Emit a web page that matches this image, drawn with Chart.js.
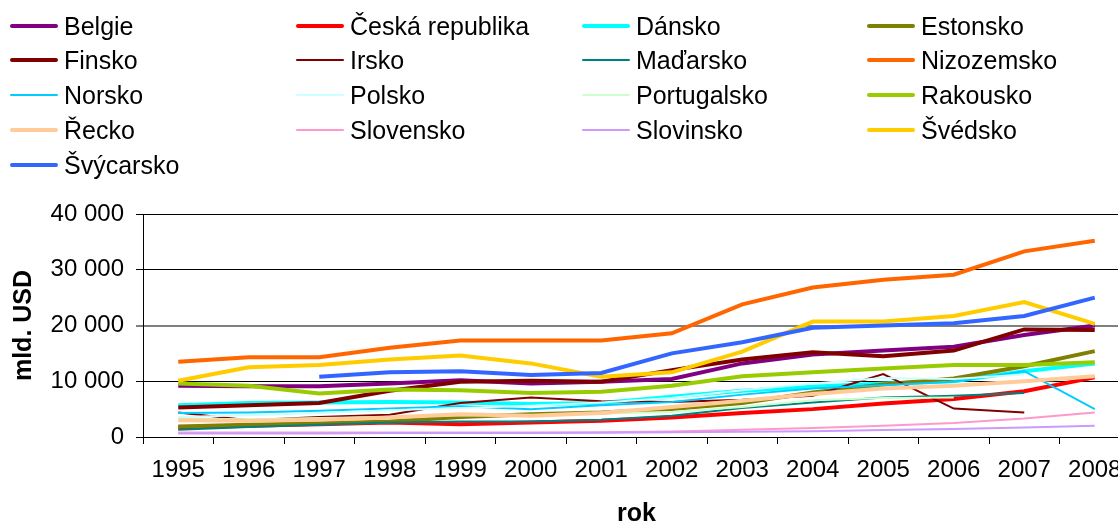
<!DOCTYPE html>
<html>
<head>
<meta charset="utf-8">
<script src="https://cdn.jsdelivr.net/npm/chart.js@4.4.0/dist/chart.umd.min.js"></script>
<style>
  html, body { margin: 0; padding: 0; background: #fff; overflow: hidden; width: 1118px; height: 524px; }
  #wrap { position: relative; width: 1150px; height: 524px; }
  #legend { position: absolute; left: 0; top: 0; width: 1118px; height: 190px;
            font-family: "Liberation Sans", Arial, sans-serif; font-size: 25px; color: #000; }
  .item { position: absolute; height: 28px; line-height: 28px; white-space: nowrap; }
  .swatch { position: absolute; left: -54px; width: 48px; border-radius: 2px; }
</style>
</head>
<body>
<div id="wrap">
  <canvas id="chart" width="1150" height="524"></canvas>
  <div id="legend"></div>
</div>
<script>
const years = ['1995', '1996', '1997', '1998', '1999', '2000', '2001', '2002', '2003', '2004', '2005', '2006', '2007', '2008'];
const yTicks = [0, 10000, 20000, 30000, 40000];

const belgie      = [9200, 9100, 9100, 9600, 10200, 9600, 9900, 10400, 13200, 14800, 15500, 16200, 18300, 20000];
const ceska       = [1700, 2000, 2300, 2600, 2300, 2600, 2900, 3500, 4300, 5000, 6000, 6800, 8200, 10700];
const dansko      = [5700, 6100, 6200, 6300, 6200, 5900, 6100, 7200, 8300, 9000, 9600, 10000, 11800, 13200];
const estonsko    = [1900, 2200, 2450, 2800, 3600, 4100, 4400, 5000, 6100, 8000, 9400, 10500, 12700, 15400];
const finsko      = [5300, 5700, 6100, 8300, 9900, 10100, 9900, 12000, 13900, 15200, 14500, 15500, 19300, 19200];
const irsko       = [4400, 3000, 3600, 4000, 6100, 7100, 6400, 6300, 6700, 7400, 11300, 5100, 4400, null];
const madarsko    = [1300, 1800, 2200, 2600, 2800, 2800, 3100, 3800, 5200, 6200, 7100, 7400, 7900, null];
const nizozemsko  = [13500, 14300, 14300, 16000, 17300, 17300, 17300, 18600, 23800, 26800, 28200, 29100, 33300, 35200];
const norsko      = [4300, 4400, 4700, 5100, 5500, 5000, 5700, 6300, 7600, 8700, 9300, 9900, 11800, 5000];
const polsko      = [3600, 3900, 4300, 4800, 5200, 5600, 6200, 7000, 8400, 9600, 10600, 10400, 11200, null];
const portugalsko = [3300, 3200, 3400, 3600, 3900, 3900, 4200, 4500, 5400, 6600, 7000, 7100, null, null];
const rakousko    = [9600, 9200, 7800, 8500, 8400, 7900, 8100, 9200, 10900, 11600, 12300, 12900, 12900, 13400];
const recko       = [3000, 2900, 3100, 3500, 4100, 3800, 4300, 5400, 6500, 7700, 8700, 9200, 10000, 10900];
const slovensko   = [800, 800, 800, 800, 800, 800, 850, 1000, 1300, 1600, 2000, 2500, 3300, 4400];
const slovinsko   = [650, 650, 650, 700, 700, 700, 750, 850, 950, 1050, 1250, 1450, 1700, 2000];
const svedsko     = [10100, 12500, 12900, 13900, 14600, 13200, 10800, 11600, 15300, 20700, 20700, 21700, 24200, 20300];
const svycarsko   = [null, null, 10800, 11600, 11800, 11100, 11500, 15000, 17000, 19600, 20000, 20400, 21700, 25000];

// name, values, colour, thick line?
const series = [
  ['Belgie', belgie, '#800080', true],
  ['Česká republika', ceska, '#FF0000', true],
  ['Dánsko', dansko, '#00FFFF', true],
  ['Estonsko', estonsko, '#808000', true],
  ['Finsko', finsko, '#800000', true],
  ['Irsko', irsko, '#800000', false],
  ['Maďarsko', madarsko, '#008080', false],
  ['Nizozemsko', nizozemsko, '#FF6600', true],
  ['Norsko', norsko, '#00CCFF', false],
  ['Polsko', polsko, '#CCFFFF', false],
  ['Portugalsko', portugalsko, '#CCFFCC', false],
  ['Rakousko', rakousko, '#99CC00', true],
  ['Řecko', recko, '#FFCC99', true],
  ['Slovensko', slovensko, '#FF99CC', false],
  ['Slovinsko', slovinsko, '#CC99FF', false],
  ['Švédsko', svedsko, '#FFCC00', true],
  ['Švýcarsko', svycarsko, '#3366FF', true]
];

const font = { family: '"Liberation Sans", Arial, sans-serif', size: 24 };
const boldFont = { family: '"Liberation Sans", Arial, sans-serif', size: 25, weight: 'bold', lineHeight: 1 };

const datasets = series.map((s, i) => ({
  label: s[0],
  data: s[1],
  borderColor: s[2],
  backgroundColor: s[2],
  borderWidth: s[3] ? 4 : 2,
  pointRadius: 0,
  tension: 0,
  fill: false,
  spanGaps: false,
  order: series.length - i  // later series drawn on top, like the original
}));

const fmt = v => String(v).replace(/\B(?=(\d{3})+(?!\d))/g, ' ');

new Chart(document.getElementById('chart').getContext('2d'), {
  type: 'line',
  data: { labels: years, datasets: datasets },
  options: {
    responsive: false,
    animation: false,
    layout: { padding: { left: 0, top: 214, right: 20, bottom: 0 } },
    plugins: { legend: { display: false }, tooltip: { enabled: false } },
    scales: {
      x: {
        offset: true,
        grid: { offset: true, drawOnChartArea: false, tickLength: 7, color: '#000' },
        border: { color: '#000', width: 1 },
        ticks: { color: '#000', font: font, padding: 12, maxRotation: 0, autoSkip: false },
        title: { display: true, text: 'rok', color: '#000', font: boldFont, padding: { top: 0, bottom: -3 } },
        afterFit: s => { s.height = 87; }
      },
      y: {
        min: 0,
        max: 40000,
        afterBuildTicks: s => { s.ticks = yTicks.map(v => ({ value: v })); },
        grid: {
          tickLength: 7,
          color: c => c.tick && c.tick.value === 20000 ? '#808080' : '#000',
          lineWidth: c => c.tick && c.tick.value === 20000 ? 2 : 1
        },
        border: { color: '#000', width: 1 },
        ticks: { color: '#000', font: font, padding: 12, callback: v => fmt(v) },
        title: { display: true, text: 'mld. USD', color: '#000', font: boldFont, padding: { top: 12 } },
        afterFit: s => { s.width = 143; }
      }
    }
  }
});

// legend in four fixed columns
const legend = document.getElementById('legend');
const colX = [64, 350, 636, 921];
series.forEach((s, i) => {
  const item = document.createElement('div');
  item.className = 'item';
  item.style.left = colX[i % 4] + 'px';
  item.style.top = (25.5 + 34.8 * Math.floor(i / 4) - 14) + 'px';
  const sw = document.createElement('span');
  sw.className = 'swatch';
  const h = s[3] ? 4 : 2;
  sw.style.height = h + 'px';
  sw.style.top = (14 - h / 2) + 'px';
  sw.style.background = s[2];
  item.appendChild(sw);
  item.appendChild(document.createTextNode(s[0]));
  legend.appendChild(item);
});
</script>
</body>
</html>
